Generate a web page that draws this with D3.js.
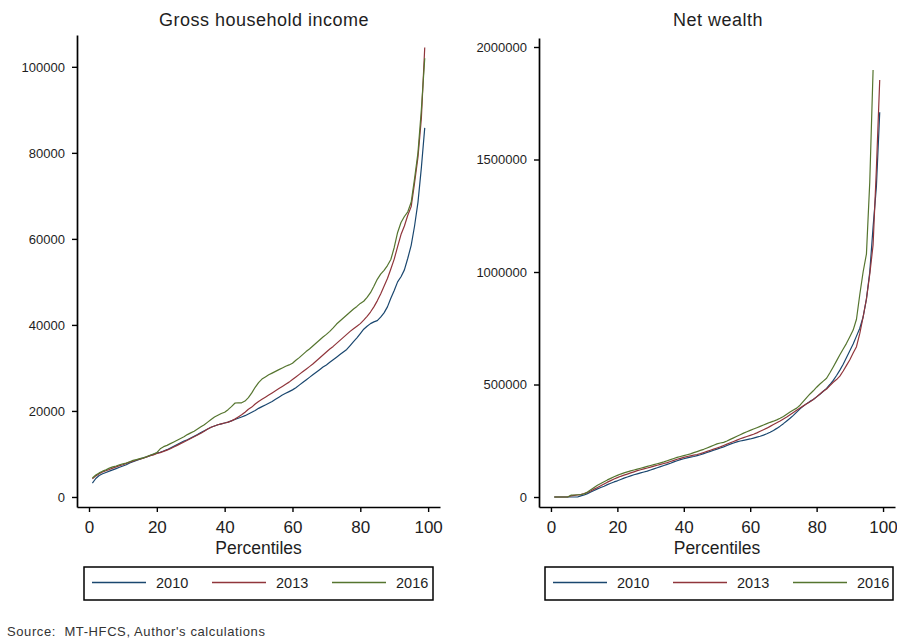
<!DOCTYPE html>
<html>
<head>
<meta charset="utf-8">
<script src="https://cdn.jsdelivr.net/npm/d3@7"></script>
<style>
  html, body { margin: 0; padding: 0; background: #fff; }
  svg { display: block; font-family: "Liberation Sans", Arial, Helvetica, sans-serif; }
</style>
</head>
<body>
<svg id="chart" width="897" height="639"></svg>
<script>
// Survey waves shown in each panel
const years = ["2010", "2013", "2016"];
const yearColors = ["#1a476f", "#90353b", "#55752f"];

// Gross household income by percentile (p1, p2, ...)
const income2010 = [3200,4300,5000,5400,5700,6000,6300,6600,6900,7200,7500,7900,8200,8500,8800,9100,9300,9600,9900,10200,
  10400,10700,11000,11400,11800,12200,12600,13000,13300,13700,14100,14500,15000,15400,15800,16200,16500,16800,17000,17200,
  17400,17700,18000,18300,18600,18900,19300,19700,20100,20600,21000,21400,21800,22200,22700,23200,23700,24100,24500,24900,
  25400,26000,26600,27200,27800,28400,29000,29600,30200,30700,31300,31900,32500,33100,33700,34300,35200,36100,37000,38000,
  39000,39700,40300,40700,41000,41800,42800,44200,46200,48000,50000,51200,52800,55500,58500,63000,68500,76500,85800];
const income2013 = [4200,4900,5400,5800,6100,6400,6700,7000,7300,7500,7800,8100,8300,8600,8800,9000,9300,9600,9800,10100,
  10300,10600,10900,11200,11600,12000,12400,12800,13200,13600,14000,14400,14800,15300,15800,16200,16500,16800,17000,17200,
  17400,17700,18100,18600,19100,19700,20400,20900,21600,22200,22700,23200,23700,24200,24700,25200,25700,26200,26700,27300,
  27900,28500,29100,29700,30300,30900,31600,32300,33000,33700,34400,35000,35700,36400,37100,37800,38500,39100,39700,40300,
  41100,42000,43000,44200,45600,47200,49000,50800,53000,55300,58200,61000,63000,65500,67500,73000,79000,88000,104500];
const income2016 = [4400,5100,5600,6000,6300,6700,7000,7200,7500,7700,7900,8200,8500,8700,8900,9100,9400,9700,10000,10300,
  11200,11700,12000,12400,12800,13200,13600,14000,14500,14900,15300,15800,16300,16800,17400,18000,18600,19000,19400,19700,
  20300,21000,21800,21900,21900,22300,23100,24200,25500,26600,27400,27900,28400,28800,29200,29600,30000,30400,30700,31100,
  31800,32400,33100,33800,34400,35100,35800,36500,37200,37800,38500,39300,40200,40900,41600,42300,43000,43700,44300,45000,
  45500,46400,47500,49000,50600,51800,52700,53800,55200,58000,61500,63800,65200,66300,68500,74000,80000,90000,102000];

// Net wealth by percentile (p1, p2, ...)
const wealth2010 = [0,0,0,0,0,0,0,0,5000,9000,15000,22000,29000,36000,42000,48000,55000,61000,67000,72000,
  78000,84000,89000,94000,99000,103000,107000,111000,115000,120000,125000,130000,135000,140000,145000,150000,156000,161000,166000,170000,
  174000,177000,180000,184000,188000,193000,198000,203000,208000,213000,218000,223000,229000,235000,240000,245000,249000,252000,255000,258000,
  262000,266000,270000,275000,281000,288000,296000,305000,315000,326000,338000,350000,363000,377000,392000,404000,415000,425000,433000,445000,
  457000,470000,483000,500000,518000,540000,564000,590000,620000,650000,680000,715000,750000,800000,880000,1000000,1200000,1380000,1710000];
const wealth2013 = [0,0,0,0,0,5000,7000,9000,11000,15000,20000,27000,35000,42000,50000,58000,66000,73000,80000,86000,
  92000,97000,102000,107000,112000,117000,121000,125000,129000,133000,137000,141000,145000,149000,153000,158000,163000,168000,172000,176000,
  180000,183000,186000,189000,193000,198000,203000,208000,213000,218000,223000,229000,235000,241000,247000,253000,259000,264000,269000,274000,
  279000,285000,292000,299000,306000,314000,322000,330000,338000,347000,356000,366000,376000,386000,396000,405000,414000,423000,433000,445000,
  458000,470000,480000,495000,510000,522000,537000,560000,585000,610000,640000,668000,727000,800000,880000,990000,1120000,1460000,1853000];
const wealth2016 = [0,0,0,0,0,8000,9000,10000,11000,14000,22000,32000,42000,52000,60000,68000,76000,83000,90000,96000,
  102000,107000,112000,116000,120000,124000,128000,132000,136000,140000,144000,148000,152000,156000,161000,166000,171000,176000,180000,184000,
  188000,192000,197000,202000,207000,212000,218000,224000,230000,236000,240000,243000,249000,256000,263000,270000,277000,284000,290000,296000,
  302000,308000,314000,320000,326000,332000,337000,343000,350000,358000,368000,378000,387000,395000,408000,425000,442000,458000,472000,488000,
  502000,515000,528000,552000,578000,605000,632000,658000,683000,712000,742000,790000,900000,1000000,1080000,1400000,1898000];

// Axis ticks
const percentileTicks = [0, 20, 40, 60, 80, 100];
const incomeTicks = [0, 20000, 40000, 60000, 80000, 100000];
const wealthTicks = [0, 500000, 1000000, 1500000, 2000000];

const panels = [
  {
    title: "Gross household income", titleX: 264,
    series: [income2010, income2013, income2016],
    yTicks: incomeTicks,
    x: d3.scaleLinear().domain([-3.54, 103.5]).range([77, 440]),
    y: d3.scaleLinear().domain([-2330, 107400]).range([507, 35]),
    legend: { x: 84, w: 349 }
  },
  {
    title: "Net wealth", titleX: 718,
    series: [wealth2010, wealth2013, wealth2016],
    yTicks: wealthTicks,
    x: d3.scaleLinear().domain([-3.6, 103.6]).range([539, 895]),
    y: d3.scaleLinear().domain([-44400, 2040000]).range([507, 38]),
    legend: { x: 545, w: 348 }
  }
];

const svg = d3.select("#chart");
const ink = "#1e1e1e";

panels.forEach(p => {
  const g = svg.append("g");

  // Title
  g.append("text")
    .attr("x", p.titleX).attr("y", 26)
    .attr("text-anchor", "middle")
    .attr("font-size", 18).attr("letter-spacing", 0.5)
    .attr("fill", ink)
    .text(p.title);

  // Y axis
  const yAxis = g.append("g")
    .attr("transform", `translate(${p.x.range()[0]},0)`)
    .call(d3.axisLeft(p.y).tickValues(p.yTicks).tickSize(5).tickSizeOuter(0).tickPadding(7).tickFormat(d3.format("d")));
  yAxis.select(".domain").attr("stroke", "#000").attr("stroke-width", 1.7);
  yAxis.selectAll(".tick line").attr("stroke", "#000").attr("stroke-width", 1.4);
  yAxis.selectAll(".tick text").attr("font-size", 13).attr("fill", ink)
    .attr("font-family", "'Liberation Sans', Arial, sans-serif");

  // X axis
  const xAxis = g.append("g")
    .attr("transform", `translate(0,${p.y.range()[0]})`)
    .call(d3.axisBottom(p.x).tickValues(percentileTicks).tickSize(5).tickSizeOuter(0).tickPadding(9));
  xAxis.select(".domain").attr("stroke", "#000").attr("stroke-width", 1.7);
  xAxis.selectAll(".tick line").attr("stroke", "#000").attr("stroke-width", 1.4);
  xAxis.selectAll(".tick text").attr("font-size", 17).attr("fill", ink)
    .attr("font-family", "'Liberation Sans', Arial, sans-serif");

  // X axis title
  g.append("text")
    .attr("x", (p.x(0) + p.x(100)) / 2).attr("y", 554)
    .attr("text-anchor", "middle")
    .attr("font-size", 17.5)
    .attr("fill", ink)
    .text("Percentiles");

  // Percentile curves, one per survey wave
  const line = d3.line()
    .x((d, i) => p.x(i + 1))
    .y(d => p.y(d));
  p.series.forEach((vals, k) => {
    g.append("path")
      .datum(vals)
      .attr("fill", "none")
      .attr("stroke", yearColors[k])
      .attr("stroke-width", 1.2)
      .attr("stroke-linejoin", "round")
      .attr("d", line);
  });

  // Legend
  const lg = g.append("g").attr("transform", `translate(${p.legend.x},567)`);
  lg.append("rect")
    .attr("width", p.legend.w).attr("height", 33)
    .attr("fill", "none").attr("stroke", "#000").attr("stroke-width", 1.5);
  years.forEach((yr, k) => {
    const ox = 8 + k * 120;
    lg.append("line")
      .attr("x1", ox).attr("x2", ox + 54)
      .attr("y1", 15.5).attr("y2", 15.5)
      .attr("stroke", yearColors[k]).attr("stroke-width", 1.3);
    lg.append("text")
      .attr("x", ox + 64).attr("y", 20.5)
      .attr("font-size", 14.5).attr("fill", ink)
      .text(yr);
  });
});

// Source note
svg.append("text")
  .attr("x", 7).attr("y", 636)
  .attr("font-size", 13).attr("letter-spacing", 0.6).attr("fill", "#333")
  .attr("xml:space", "preserve")
  .style("white-space", "pre")
  .text("Source:  MT-HFCS, Author's calculations");
</script>
</body>
</html>
